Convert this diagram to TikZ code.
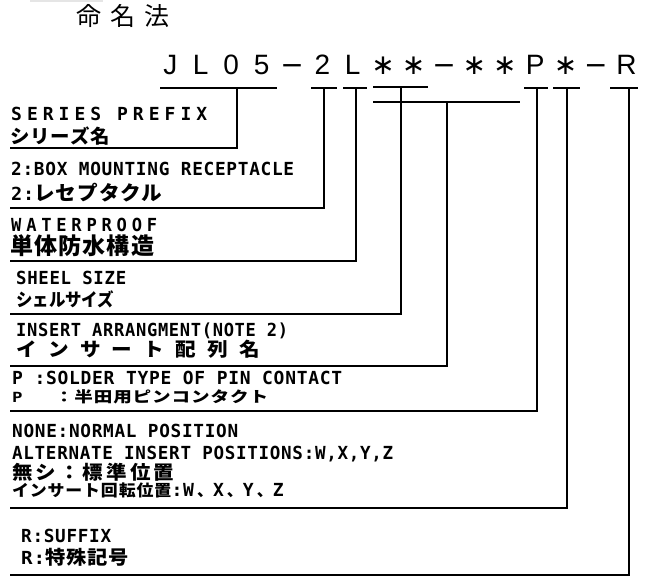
\documentclass[tikz,border=0pt]{standalone}
\usepackage{fontspec}
\usepackage{graphicx}
\newfontfamily\lat{DejaVu Sans Mono}[LetterSpace=4]
\newfontfamily\latw{DejaVu Sans Mono}[LetterSpace=28]
\newfontfamily\jp{Noto Sans CJK JP}
\newfontfamily\codef{Liberation Sans}
\newfontfamily\symf{DejaVu Sans}
\newcommand\enx[2][18]{{\lat\bfseries\fontsize{#1}{#1}\selectfont #2}}
\newcommand\fitw[2]{\resizebox{#1pt}{\height}{#2}}
\newcommand\jx[3]{{\jp\bfseries\fontsize{#1}{#1}\selectfont\addfontfeature{LetterSpace=#2}#3}}
\newcommand\cc[1]{\makebox[30.4pt]{#1}}
\newcommand\cst{\cc{\symf ∗}}
\newcommand\cdash{\cc{\symf −}}
\tikzset{
  en/.style={anchor=base west, inner sep=0pt, font=\lat\bfseries\fontsize{18}{18}\selectfont},
  enw/.style={anchor=base west, inner sep=0pt, font=\latw\bfseries\fontsize{18}{18}\selectfont},
  ja/.style={anchor=base west, inner sep=0pt},
  rule/.style={line width=1.5pt, black},
}
\begin{document}
\begin{tikzpicture}[x=1pt,y=-1pt]
\useasboundingbox (0,0) rectangle (649,585);
\fill[black!10] (30,0) rectangle (103,2.5);
% title
\node[anchor=west, inner sep=0pt, font=\jp\fontsize{25}{25}\selectfont] (title) at (72,16)
  {\makebox[34pt]{命}\makebox[34pt]{名}\makebox[34pt]{法}};
% part number
\node[anchor=base west, inner sep=0pt, font=\codef\fontsize{28}{28}\selectfont] (code) at (155,75)
  {\cc{J}\cc{L}\cc{0}\cc{5}\cdash\cc{2}\cc{L}\cst\cst\cdash\cst\cst\cc{P}\cst\cdash\cc{R}};
% coordinates of the bars and boxes
\coordinate (a1) at (160,88);  \coordinate (a2) at (277,88);  \coordinate (am) at (237,88);  \coordinate (ae) at (10,148);
\coordinate (b1) at (311,88);  \coordinate (b2) at (337,88);  \coordinate (bm) at (324,88);  \coordinate (be) at (10,208);
\coordinate (c1) at (343,88);  \coordinate (c2) at (367,88);  \coordinate (cm) at (356,88);  \coordinate (ce) at (10,261);
\coordinate (d1) at (373,87);  \coordinate (d2) at (428,87);  \coordinate (dm) at (401,87);  \coordinate (de) at (10,314);
\coordinate (f1) at (373,102); \coordinate (f2) at (520,102); \coordinate (fm) at (447,102); \coordinate (fe) at (10,366);
\coordinate (g1) at (524,88);  \coordinate (g2) at (548,88);  \coordinate (gm) at (537,88);  \coordinate (ge) at (10,411);
\coordinate (h1) at (553,88);  \coordinate (h2) at (580,88);  \coordinate (hm) at (567,88);  \coordinate (he) at (10,508);
\coordinate (k1) at (610,88);  \coordinate (k2) at (638,88);  \coordinate (km) at (629,88);  \coordinate (ke) at (10,575);
\foreach \p in {a,b,c,d,f,g,h,k}{
  \draw[rule] (\p1) -- (\p2);
  \draw[rule] (\p m) |- (\p e);
}
% labels
\node[enw] (t1) at (11,121) {\fitw{196}{SERIES PREFIX}};
\node[ja]  (j1) at (10,144) {\fitw{100}{\jx{19}{5}{シリーズ名}}};
\node[en]  (t2) at (11,176) {\fitw{283}{2:BOX MOUNTING RECEPTACLE}};
\node[ja]  (j2) at (11,201) {\fitw{151}{\enx{2:}\jx{20}{5}{レセプタクル}}};
\node[enw] (t3) at (11,232) {\fitw{146}{WATERPROOF}};
\node[ja]  (j3) at (10,255) {\fitw{144}{\jx{23}{5}{単体防水構造}}};
\node[en]  (t4) at (16,285) {\fitw{110}{SHEEL SIZE}};
\node[ja]  (j4) at (16,307) {\fitw{98}{\jx{18}{0}{シェルサイズ}}};
\node[en]  (t5) at (16,337) {\fitw{272}{INSERT ARRANGMENT(NOTE 2)}};
\node[ja]  (j5) at (16,357) {\fitw{244}{\jx{19}{55}{インサート配列名}}};
\node[en]  (t6) at (12,385) {\fitw{330}{P :SOLDER TYPE OF PIN CONTACT}};
\node[ja]  (j6) at (12,403) {\fitw{256}{\enx[14]{P}\hspace{26pt}\jx{15}{5}{：半田用ピンコンタクト}}};
\node[en]  (t7) at (12,438) {\fitw{226}{NONE:NORMAL POSITION}};
\node[en]  (t8) at (12,460) {\fitw{381}{ALTERNATE INSERT POSITIONS:W,X,Y,Z}};
\node[ja]  (j7) at (12,480) {\fitw{162}{\jx{19}{15}{無シ：標準位置}}};
\node[ja]  (j8) at (12,497) {\fitw{159}{\jx{16}{5}{インサート回転位置}}};
\node[ja]  (j8b) at (j8.base east) [anchor=base west] {\fitw{112}{\enx{:W}\hspace{3pt}\jx{16}{0}{、}\enx{X}\hspace{3pt}\jx{16}{0}{、}\enx{Y}\hspace{3pt}\jx{16}{0}{、}\enx{Z}}};
\node[en]  (t9) at (21,543) {\fitw{90}{R:SUFFIX}};
\node[ja]  (j9) at (21,565) {\fitw{108}{\enx{R:}\jx{19}{5}{特殊記号}}};
\end{tikzpicture}
\end{document}
